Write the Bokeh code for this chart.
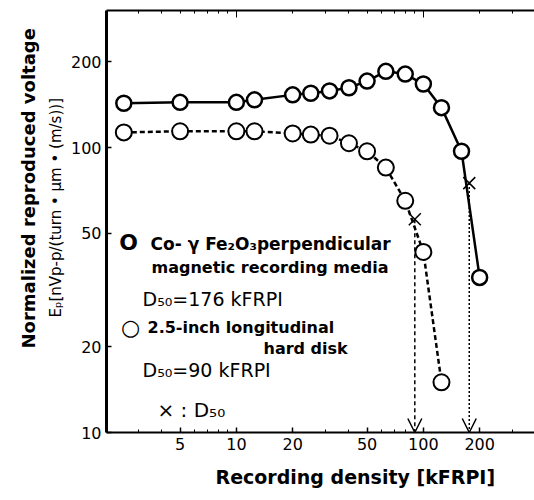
import numpy as np
from bokeh.plotting import figure
from bokeh.models import LogAxis, FixedTicker, Label, Arrow, OpenHead, Range1d, Title
from bokeh.embed import file_html
from bokeh.resources import INLINE

# ---- data ----
perp_density = [2.5, 5, 10, 12.5, 20, 25, 31.5, 40, 50, 63, 80, 100, 125, 160, 200]
perp_voltage = [143, 144, 144, 147, 153, 155, 158, 162, 171, 185, 181, 167, 138, 97, 35]
long_density = [2.5, 5, 10, 12.5, 20, 25, 31.5, 40, 50, 63, 80, 100, 125]
long_voltage = [113, 114, 114, 114, 112, 111, 110, 103.5, 97, 85, 65, 43, 15]
d50_density = [176, 90]
d50_voltage = [75, 56]
d50_dash = ["2 2", "4 3"]
x_ticks = [5, 10, 20, 50, 100, 200]
x_minor = [2, 3, 4, 6, 7, 8, 9, 30, 40, 60, 70, 80, 90, 300]
y_ticks = [10, 20, 50, 100, 200]

X0, X1 = 2.02, 393.0
Y0, Y1 = 10.0, 302.5
FL, FT, FW, FH = 106, 10, 428, 422  # frame in page pixels

FONT = "DejaVu Sans"

p = figure(width=534, height=500, x_axis_type="log", y_axis_type="log",
           x_range=Range1d(X0, X1), y_range=Range1d(Y0, Y1),
           output_backend="svg", toolbar_location=None,
           min_border_left=106, min_border_right=0, min_border_top=10, min_border_bottom=68)
p.outline_line_color = None
p.grid.visible = False
p.background_fill_color = "white"

# bottom axis
xa = p.xaxis[0]
xa.ticker = FixedTicker(ticks=x_ticks, minor_ticks=x_minor)
xa.major_tick_in = 5
xa.major_tick_out = 0
xa.minor_tick_in = 3
xa.minor_tick_out = 0
xa.axis_line_width = 2
xa.major_tick_line_width = 1.5
xa.major_label_text_font = FONT
xa.major_label_text_font_size = "16px"
xa.major_label_text_color = "black"
xa.major_label_standoff = 5

# left axis
ya = p.yaxis[0]
ya.ticker = FixedTicker(ticks=y_ticks, minor_ticks=[])
ya.major_tick_in = 5
ya.major_tick_out = 0
ya.axis_line_width = 3
ya.major_tick_line_width = 1.5
ya.major_label_text_font = FONT
ya.major_label_text_font_size = "16px"
ya.major_label_text_color = "black"
ya.major_label_standoff = 5

# top axis (ticks only)
top = LogAxis(ticker=FixedTicker(ticks=[10, 100], minor_ticks=x_minor + [5, 20, 50, 200]),
              major_tick_in=7, major_tick_out=0, minor_tick_in=3, minor_tick_out=0,
              axis_line_width=2, major_label_text_font_size="1px",
              major_label_text_color=None, major_label_standoff=0)
p.add_layout(top, "above")

# axis titles (placed like the reference, not centred)
p.add_layout(Title(text="Eₚ[nVp-p/(turn • μm • (m/s))]", align="left", offset=115,
                   text_font=FONT, text_font_size="15px", text_font_style="normal",
                   text_color="black", standoff=6), "left")
p.add_layout(Title(text="Normalized reproduced voltage", align="left", offset=84,
                   text_font=FONT, text_font_size="18px", text_font_style="bold",
                   text_color="black", standoff=6), "left")
p.add_layout(Title(text="Recording density [kFRPI]", align="left", offset=109,
                   text_font=FONT, text_font_size="19px", text_font_style="bold",
                   text_color="black", standoff=23), "below")

# ---- series ----
p.line(perp_density, perp_voltage, line_color="black", line_width=2.5)
p.scatter(perp_density, perp_voltage, size=15, fill_color="white",
          line_color="black", line_width=2.5)
p.line(long_density, long_voltage, line_color="black", line_width=2.5, line_dash="5 3")
p.scatter(long_density, long_voltage, size=16, fill_color="white",
          line_color="black", line_width=2)
p.scatter(d50_density, d50_voltage, marker="x", size=17, line_color="black", line_width=1.5)

for xd, yd, dash in zip(d50_density, d50_voltage, d50_dash):
    p.add_layout(Arrow(x_start=xd, y_start=yd, x_end=xd, y_end=Y0,
                       line_color="black", line_width=1.5, line_dash=dash,
                       end=OpenHead(size=14, line_color="black", line_width=1.5)))


def dx(px):
    return 10 ** (np.log10(X0) + (px - FL) / FW * np.log10(X1 / X0))


def dy(py):
    return 10 ** (np.log10(Y0) + (FT + FH - py) / FH * np.log10(Y1 / Y0))


def lab(px, py, text, size, bold=False, align="left"):
    p.add_layout(Label(x=dx(px), y=dy(py), text=text, text_font=FONT,
                       text_font_size=f"{size}px",
                       text_font_style="bold" if bold else "normal",
                       text_align=align, text_baseline="middle",
                       text_color="black"))


# in-plot legend text
lab(128, 242, "O", 22, bold=True, align="center")
lab(150, 243, "Co- γ Fe₂O₃perpendicular", 17, bold=True)
lab(151, 267, "magnetic recording media", 16, bold=True)
lab(142, 298, "D₅₀=176 kFRPI", 19)
lab(130, 327, "○", 22, align="center")
lab(147, 327, "2.5-inch longitudinal", 16, bold=True)
lab(263, 348, "hard disk", 16, bold=True)
lab(142, 369, "D₅₀=90 kFRPI", 19)
lab(157, 409, "× : D₅₀", 20)

open("out.html", "w").write(file_html(p, INLINE))
